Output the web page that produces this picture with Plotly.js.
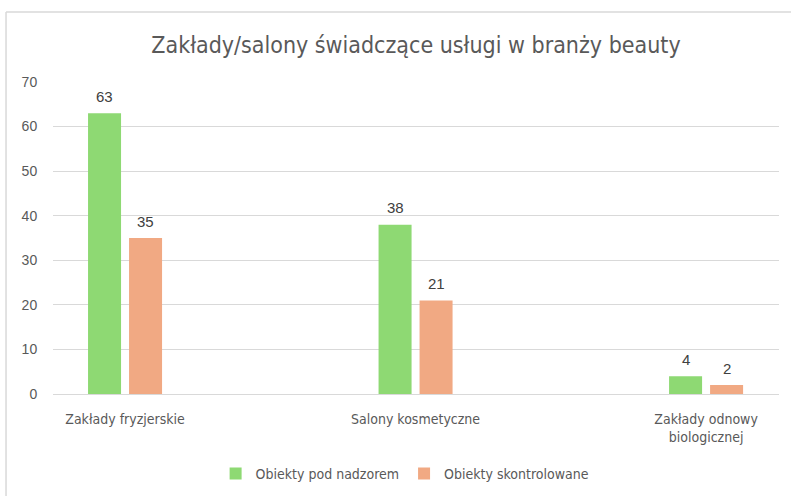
<!DOCTYPE html>
<html>
<head>
<meta charset="utf-8">
<script src="https://cdn.plot.ly/plotly-3.0.1.min.js"></script>
<style>
html,body{margin:0;padding:0;background:#fff;}
#chart{width:791px;height:496px;}
</style>
</head>
<body>
<div id="chart"></div>
<script>
const categories = ["Zakłady fryzjerskie", "Salony kosmetyczne", "Zakłady odnowy<br>biologicznej"];
const seriesNames = ["Obiekty pod nadzorem", "Obiekty skontrolowane"];
const underSupervision = [63, 38, 4];
const inspected = [35, 21, 2];
const yTicks = [0, 10, 20, 30, 40, 50, 60, 70];

const colors = ["#8ED973", "#F1A983"];
const narrow = '"Liberation Sans Narrow", "DejaVu Sans Condensed", "Roboto Condensed", sans-serif';
const arial = '"Liberation Sans", Arial, sans-serif';

const values = [underSupervision, inspected];
const traces = values.map((vals, i) => ({
  type: 'bar',
  name: seriesNames[i],
  x: categories,
  y: vals,
  marker: {color: colors[i]},
  hoverinfo: 'x+y+name'
}));

const barShift = [-20.5, 20.5];
const annotations = [];
values.forEach((vals, i) => {
  vals.forEach((v, j) => {
    annotations.push({
      x: categories[j], y: v, xref: 'x', yref: 'y',
      text: String(v), showarrow: false,
      xshift: barShift[i], yshift: 17, yanchor: 'middle',
      font: {family: arial, size: 15, color: '#404040'}
    });
  });
});

const layout = {
  width: 791, height: 496,
  margin: {l: 53, r: 12, t: 82, b: 102, autoexpand: false},
  paper_bgcolor: '#ffffff', plot_bgcolor: '#ffffff',
  title: {
    text: 'Zakłady/salony świadczące usługi w branży beauty',
    font: {family: narrow, size: 23, color: '#595959'},
    x: 0.5, xanchor: 'center', xref: 'paper',
    y: 1 - 45/496, yanchor: 'middle', yref: 'container'
  },
  barmode: 'group',
  bargap: 0.7177,
  bargroupgap: 0.195,
  xaxis: {
    type: 'category',
    range: [-0.248, 2.251],
    showgrid: false,
    showline: false,
    zeroline: false,
    ticks: '',
    ticklabelstandoff: 15,
    automargin: false,
    tickfont: {family: narrow, size: 14, color: '#595959'}
  },
  yaxis: {
    range: [0, 70],
    tickvals: yTicks,
    showgrid: true,
    gridcolor: '#d9d9d9',
    gridwidth: 1,
    zeroline: true,
    zerolinecolor: '#d9d9d9',
    zerolinewidth: 1,
    showline: false,
    automargin: false,
    ticks: 'outside',
    ticklen: 12,
    tickcolor: 'rgba(0,0,0,0)',
    tickfont: {family: arial, size: 14, color: '#595959'}
  },
  legend: {
    orientation: 'h',
    xref: 'paper', x: 0.485, xanchor: 'center',
    yref: 'container', y: 1 - 474/496, yanchor: 'middle',
    font: {family: narrow, size: 14, color: '#595959'},
    itemwidth: 30,
    traceorder: 'normal'
  },
  showlegend: true,
  annotations: annotations,
  shapes: [
    {type: 'line', xref: 'paper', yref: 'paper', x0: -0.0647, x1: -0.0647, y0: 1.2244, y1: -0.4, line: {color: '#d9d9d9', width: 1.5}},
    {type: 'line', xref: 'paper', yref: 'paper', x0: -0.0647, x1: 1.03, y0: 1.2244, y1: 1.2244, line: {color: '#d9d9d9', width: 1.5}}
  ]
};

Plotly.newPlot('chart', traces, layout, {displayModeBar: false, staticPlot: true});
</script>
</body>
</html>
